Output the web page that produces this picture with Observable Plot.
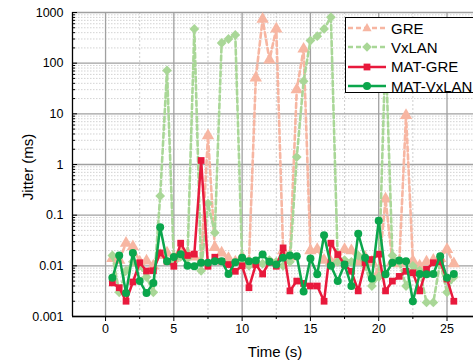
<!DOCTYPE html>
<html>
<head>
<meta charset="utf-8">
<script src="https://cdn.jsdelivr.net/npm/d3@7"></script>
<script src="https://cdn.jsdelivr.net/npm/@observablehq/plot@0.6"></script>
<style>
  html, body { margin: 0; padding: 0; background: #fff; }
  #wrap { position: relative; width: 473px; height: 360px; overflow: hidden; font-family: "Liberation Sans", Arial, sans-serif; }
  #legend { position: absolute; left: 345px; top: 17px; width: 140px; height: 76px; background: #fff; border: 1px solid #000; box-sizing: border-box; }
  .row { position: absolute; left: 0; height: 20px; display: flex; align-items: center; font-size: 15px; color: #000; white-space: nowrap; }
  .row svg { margin-right: 3px; }
  .title { position: absolute; font-size: 15px; color: #000; white-space: nowrap; }
</style>
</head>
<body>
<div id="wrap">
  <div id="chart"></div>
  <div class="title" id="xt" style="left:275px; top:351px; transform: translate(-50%,-50%);">Time (s)</div>
  <div class="title" id="yt" style="left:27px; top:167px; transform: translate(-50%,-50%) rotate(-90deg);">Jitter (ms)</div>
  <div id="legend"></div>
</div>
<script>
// ---- data ----
const times = [0.5,1,1.5,2,2.5,3,3.5,4,4.5,5,5.5,6,6.5,7,7.5,8,8.5,9,9.5,10,10.5,11,11.5,12,12.5,13,13.5,14,14.5,15,15.5,16,16.5,17,17.5,18,18.5,19,19.5,20,20.5,21,21.5,22,22.5,23,23.5,24,24.5,25,25.5];

const gre = [0.014,0.013,0.028,0.024,0.012,0.0125,0.01,0.016,0.018,0.014,0.02,0.018,0.015,0.012,3.7,0.023,0.018,0.014,0.012,0.015,0.012,51,740,116,475,0.02,0.015,30,190,0.02,0.021,0.013,0.012,0.014,0.021,0.02,0.012,0.015,0.012,0.0074,0.21,0.012,0.011,9.3,0.0125,0.01,0.012,0.013,0.014,0.021,0.011];

const vxlan = [0.016,0.003,0.008,0.012,0.01,0.006,0.003,0.24,72,0.012,0.015,0.014,475,0.008,0.17,0.045,250,300,360,0.012,0.01,0.012,0.011,0.013,0.012,0.01,0.012,1.4,44,280,340,475,810,0.012,0.013,0.012,0.016,0.01,0.004,0.006,200,0.016,0.012,0.004,0.01,0.008,0.0019,0.0019,0.012,0.003,0.006];

const matGre = [0.0046,0.0037,0.002,0.0048,0.0115,0.0079,0.008,0.018,0.0123,0.0098,0.028,0.016,0.017,1.2,0.0098,0.0148,0.0123,0.0106,0.0078,0.01,0.0037,0.0106,0.0069,0.0118,0.0098,0.0226,0.0032,0.005,0.0045,0.004,0.004,0.002,0.028,0.0167,0.0106,0.0078,0.0032,0.0115,0.0133,0.017,0.0032,0.005,0.0062,0.0078,0.0073,0.0032,0.0085,0.0115,0.012,0.0055,0.002];

const matVxlan = [0.0058,0.016,0.0029,0.018,0.005,0.0029,0.0046,0.058,0.0123,0.015,0.017,0.01,0.0098,0.0115,0.0115,0.0123,0.0123,0.0069,0.0118,0.0144,0.0123,0.0127,0.0167,0.012,0.0106,0.0144,0.016,0.0155,0.0031,0.014,0.0068,0.04,0.01,0.005,0.0106,0.004,0.043,0.0144,0.0056,0.078,0.0068,0.0115,0.0127,0.0123,0.002,0.0069,0.0068,0.0069,0.0155,0.0058,0.0069];

const seriesNames = ["GRE", "VxLAN", "MAT-GRE", "MAT-VxLAN"];
const xTicks = [0, 5, 10, 15, 20, 25];
const xMinorTicks = [2.5, 7.5, 12.5, 17.5, 22.5];
const yTicks = [0.001, 0.01, 0.1, 1, 10, 100, 1000];
const yTickLabels = ["0.001", "0.01", "0.1", "1", "10", "100", "1000"];

// ---- styles ----
const styles = {
  "GRE":       {color: "#f7b6a2", symbol: "triangle", dash: "5,3", width: 2.6, r: 4.6},
  "VxLAN":     {color: "#a9d797", symbol: "diamond2", dash: "5,3", width: 2.6, r: 4.4},
  "MAT-GRE":   {color: "#e8193c", symbol: "square",   dash: null,  width: 2.5, r: 3.8},
  "MAT-VxLAN": {color: "#0ba64c", symbol: "circle",   dash: null,  width: 2.5, r: 4}
};

const valuesBy = {"GRE": gre, "VxLAN": vxlan, "MAT-GRE": matGre, "MAT-VxLAN": matVxlan};
const rows = Object.fromEntries(seriesNames.map(n => [n, times.map((t, i) => ({t, v: valuesBy[n][i], s: n}))]));

const xDomain = [-2.42, 26.94];
const yDomain = [0.001, 1000];
const yMinor = [];
for (const d of [0.001, 0.01, 0.1, 1, 10, 100]) for (let k = 2; k <= 9; k++) yMinor.push(+(d * k).toPrecision(3));

const seriesMarks = seriesNames.flatMap(n => {
  const st = styles[n];
  return [
    Plot.line(rows[n], {x: "t", y: "v", stroke: st.color, strokeWidth: st.width, strokeDasharray: st.dash, strokeLinejoin: "round"}),
    Plot.dot(rows[n], {x: "t", y: "v", fill: st.color, stroke: "none", symbol: st.symbol, r: st.r})
  ];
});

const chart = Plot.plot({
  width: 473,
  height: 360,
  marginLeft: 72,
  marginRight: 0,
  marginTop: 12,
  marginBottom: 44,
  style: {fontFamily: '"Liberation Sans", Arial, sans-serif', background: "#fff", overflow: "visible"},
  x: {domain: xDomain},
  y: {type: "log", domain: yDomain},
  marks: [
    // grid
    Plot.ruleY(yMinor, {stroke: "#c8c8c8", strokeWidth: 0.8, strokeDasharray: "1.5,1.5"}),
    Plot.ruleX(xMinorTicks, {stroke: "#c8c8c8", strokeWidth: 0.9, strokeDasharray: "2,2"}),
    Plot.ruleY(yTicks, {stroke: "#a0a0a0", strokeWidth: 1.3}),
    Plot.ruleX(xTicks, {stroke: "#a0a0a0", strokeWidth: 1.3}),
    // series
    ...seriesMarks,
    // axes
    Plot.axisY({ticks: yTicks, tickSize: 5, dx: 5, tickFormat: () => "", label: null, stroke: "#000"}),
    Plot.axisY({ticks: yMinor, tickSize: 3, dx: 3, tickFormat: () => "", label: null, stroke: "#000"}),
    Plot.axisY({ticks: yTicks, tickSize: 0, tickPadding: 9, tickFormat: (d) => yTickLabels[yTicks.indexOf(d)], label: null, fontSize: 12.5, fill: "#000"}),
    Plot.axisX({ticks: xTicks, tickSize: 5, tickPadding: 3, label: null, fontSize: 12.5, fill: "#000", stroke: "#000"}),
    Plot.axisX({ticks: xMinorTicks, tickSize: 3, tickFormat: () => "", label: null, stroke: "#000"}),
    Plot.ruleX([xDomain[0]], {stroke: "#000", strokeWidth: 1.3}),
    Plot.ruleY([yDomain[0]], {stroke: "#000", strokeWidth: 1.3})
  ]
});
document.getElementById("chart").appendChild(chart);

// ---- legend ----
const legend = document.getElementById("legend");
const symPath = {
  triangle: "M0,-5L4.6,3.2L-4.6,3.2Z",
  diamond2: "M0,-4.8L4.8,0L0,4.8L-4.8,0Z",
  square: "M-3.4,-3.4H3.4V3.4H-3.4Z",
  circle: null
};
seriesNames.forEach((n, i) => {
  const st = styles[n];
  const row = document.createElement("div");
  row.className = "row";
  row.style.top = (0 + i * 19.4) + "px";
  const mk = st.symbol === "circle"
    ? `<circle cx="21" cy="10" r="4" fill="${st.color}"/>`
    : `<path transform="translate(21,10)" d="${symPath[st.symbol]}" fill="${st.color}"/>`;
  row.innerHTML = `<svg width="42" height="20"><line x1="2" x2="40" y1="10" y2="10" stroke="${st.color}" stroke-width="${st.width}" ${st.dash ? `stroke-dasharray="${st.dash}"` : ""}/>${mk}</svg><span>${n}</span>`;
  legend.appendChild(row);
});
</script>
</body>
</html>
